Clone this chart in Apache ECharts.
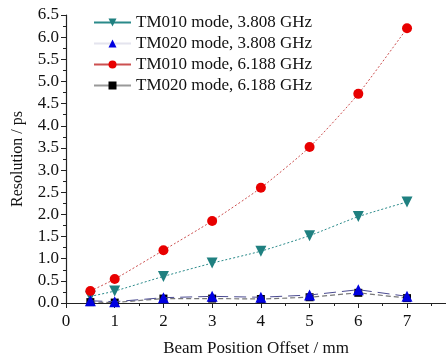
<!DOCTYPE html>
<html><head><meta charset="utf-8">
<script src="https://cdn.jsdelivr.net/npm/echarts@6/dist/echarts.min.js"></script>
<style>html,body{margin:0;padding:0;background:#fff}#c{width:446px;height:359px}</style>
</head><body><div id="c"></div>
<script>
var offsets = [0.5, 1, 2, 3, 4, 5, 6, 7];
var tm010_3808 = [0.15, 0.27, 0.60, 0.90, 1.17, 1.52, 1.95, 2.28];
var tm020_3808 = [0.05, 0.03, 0.12, 0.15, 0.13, 0.18, 0.30, 0.15];
var tm010_6188 = [0.27, 0.54, 1.19, 1.85, 2.60, 3.52, 4.72, 6.20];
var tm020_6188 = [0.02, 0.01, 0.10, 0.10, 0.09, 0.13, 0.23, 0.11];
var names = ['TM010 mode, 3.808 GHz','TM020 mode, 3.808 GHz','TM010 mode, 6.188 GHz','TM020 mode, 6.188 GHz'];
function pairs(v){ return offsets.map(function(x,i){return [x,v[i]];}); }
var font = 'Liberation Serif';
var chart = echarts.init(document.getElementById('c'));
chart.setOption({
  animation:false,
  grid:{left:66,right:0,top:15,bottom:56,containLabel:false,outerBoundsMode:'none'},
  legend:{orient:'vertical',left:88,top:9,itemWidth:37,itemHeight:10,itemGap:4,
    textStyle:{fontFamily:font,fontSize:17,color:'#111'},
    lineStyle:{type:'solid'},
    data:[
      {name:names[0]},
      {name:names[1],lineStyle:{color:'#e4e4ee',type:'solid'}},
      {name:names[2]},
      {name:names[3],lineStyle:{color:'#999',type:'solid'}}
    ]},
  xAxis:{type:'value',min:0,max:7.8,interval:1,
    name:'Beam Position Offset / mm',nameLocation:'middle',nameGap:37,
    nameTextStyle:{fontFamily:font,fontSize:17,color:'#111'},
    axisLine:{show:true,lineStyle:{color:'#222',width:1.2}},
    axisTick:{show:true,inside:false,length:5,lineStyle:{color:'#222'}},
    minorTick:{show:true,splitNumber:2,length:3,lineStyle:{color:'#222'}},
    axisLabel:{fontFamily:font,fontSize:17,color:'#111',margin:10,showMaxLabel:false,
      formatter:function(v){return Math.abs(v-Math.round(v))<1e-6?String(Math.round(v)):'';}},
    splitLine:{show:false}},
  yAxis:{type:'value',min:0,max:6.5,interval:0.5,
    name:'Resolution / ps',nameLocation:'middle',nameGap:40,
    nameTextStyle:{fontFamily:font,fontSize:16,color:'#111'},
    axisLine:{show:true,lineStyle:{color:'#222',width:1.2}},
    axisTick:{show:true,inside:false,length:5,lineStyle:{color:'#222'}},
    minorTick:{show:true,splitNumber:2,length:3,lineStyle:{color:'#222'}},
    axisLabel:{fontFamily:font,fontSize:17,color:'#111',margin:7,
      formatter:function(v){return v.toFixed(1);}},
    splitLine:{show:false}},
  series:[
    {name:names[0],type:'line',data:pairs(tm010_3808),symbol:'triangle',symbolRotate:180,symbolSize:11,
      itemStyle:{color:'#1f8080'},lineStyle:{color:'#2a8a8a',width:1,type:[2,2]},smooth:0.2},
    {name:names[1],type:'line',data:pairs(tm020_3808),symbol:'triangle',symbolSize:11,
      itemStyle:{color:'#0000e0'},lineStyle:{color:'#4a4a90',width:1,type:[12,6]},z:4},
    {name:names[2],type:'line',data:pairs(tm010_6188),symbol:'circle',symbolSize:10,
      itemStyle:{color:'#e80000'},lineStyle:{color:'#cc5050',width:1,type:[2,2]},smooth:0.2},
    {name:names[3],type:'line',data:pairs(tm020_6188),symbol:'rect',symbolSize:8,
      itemStyle:{color:'#000'},lineStyle:{color:'#777',width:1.2,type:[5,3]},z:3}
  ]
});
</script></body></html>
